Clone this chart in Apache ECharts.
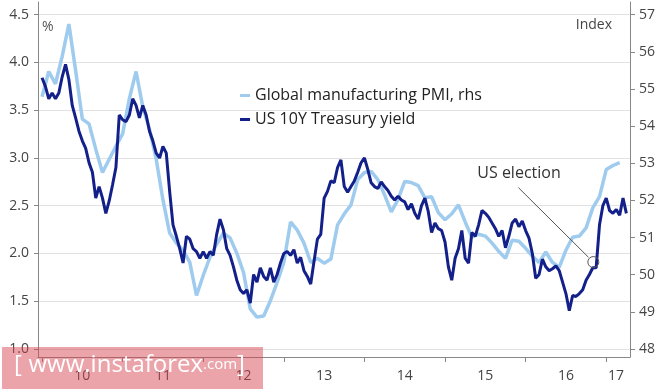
<!DOCTYPE html>
<html>
<head>
<meta charset="utf-8">
<script src="https://cdn.jsdelivr.net/npm/echarts@6/dist/echarts.min.js"></script>
<style>
html,body{margin:0;padding:0;background:#fff;}
#chart{width:665px;height:389px;}
</style>
</head>
<body>
<div id="chart"></div>
<script>
// ---- data ----
// US 10Y Treasury yield (%), semi-monthly from Jan 2010
var yieldStart = 2010;
var yieldValues = [
3.84,3.75,3.62,3.68,3.62,3.68,3.85,3.98,3.82,3.55,
3.42,3.28,3.18,3.10,2.95,2.85,2.58,2.70,2.58,2.42,
2.55,2.72,2.90,3.45,3.40,3.38,3.45,3.62,3.55,3.42,
3.55,3.45,3.28,3.18,3.05,3.00,3.12,3.05,2.65,2.30,
2.18,2.05,1.90,2.18,2.15,2.05,2.02,1.95,2.02,1.95,
2.02,1.98,2.20,2.36,2.25,2.05,1.98,1.86,1.72,1.62,
1.58,1.62,1.48,1.78,1.70,1.85,1.76,1.72,1.85,1.70,
1.78,1.90,2.00,2.02,1.98,2.04,1.90,1.96,1.82,1.76,
1.68,1.92,2.15,2.20,2.58,2.65,2.76,2.74,2.90,2.98,
2.70,2.64,2.70,2.76,2.85,2.95,3.00,2.88,2.74,2.70,
2.68,2.75,2.70,2.66,2.60,2.56,2.60,2.56,2.54,2.46,
2.52,2.42,2.36,2.50,2.58,2.44,2.22,2.32,2.26,2.24,
2.12,1.86,1.72,1.95,2.05,2.24,1.95,1.90,2.22,2.18,
2.30,2.45,2.42,2.38,2.32,2.26,2.18,2.24,2.06,2.18,
2.32,2.36,2.28,2.34,2.24,2.16,2.00,1.74,1.78,1.94,
1.86,1.82,1.84,1.87,1.82,1.70,1.58,1.40,1.56,1.55,
1.58,1.62,1.72,1.78,1.85,1.85,2.30,2.50,2.58,2.45,
2.42,2.46,2.40,2.58,2.42
];
// Global manufacturing PMI (index), monthly from Jan 2010
var pmiStart = 2010;
var pmiValues = [
54.79,55.47,55.14,55.88,56.75,55.50,54.19,54.06,53.38,52.75,
53.11,53.46,53.79,54.74,55.47,54.52,53.92,53.11,52.02,51.12,
50.85,50.66,50.33,49.44,49.98,50.47,50.82,51.12,50.99,50.58,
50.06,49.08,48.86,48.89,49.30,49.79,50.33,51.42,51.20,50.85,
50.33,50.44,50.31,50.42,51.34,51.64,51.88,52.56,52.75,52.78,
52.56,52.15,51.69,52.02,52.51,52.48,52.40,52.07,52.10,51.67,
51.48,51.64,51.88,51.42,51.01,51.09,51.04,50.85,50.63,50.44,
50.93,50.90,50.71,50.50,50.33,50.61,50.33,50.20,50.66,51.01,
51.04,51.26,51.80,52.10,52.83,52.94,53.02
];
var yearTicks = [2010,2011,2012,2013,2014,2015,2016,2017];
var yearLabelPos = [2010.5,2011.5,2012.5,2013.5,2014.5,2015.5,2016.5,2017.12];
var leftTicks = [1.0,1.5,2.0,2.5,3.0,3.5,4.0,4.5];
var rightTicks = [48,49,50,51,52,53,54,55,56,57];
var seriesNames = ['Global manufacturing PMI, rhs','US 10Y Treasury yield'];
// annotation (US election)
var electionLabel = 'US election';
var electionPoint = [2016.84, 1.91];
var electionLineFrom = [2015.91, 2.69];
var electionLineTo = [2016.78, 1.96];
var electionTextAt = [2015.918, 2.838];

// ---- build ----
var yieldData = yieldValues.map(function(v,k){ return [yieldStart + k/24, v]; });
var pmiData = pmiValues.map(function(v,i){ return [pmiStart + i/12, v]; });

var leftMin = 0.916, leftMax = 4.633;
function toRight(v){ return 48 + (v - 1.0) * 9 / 3.5; }

var FONT = '"Open Sans", sans-serif';
var LBL = {color:'#444', fontSize:14, fontFamily:FONT};

var chart = echarts.init(document.getElementById('chart'), null, {renderer:'canvas'});
chart.setOption({
  animation:false,
  backgroundColor:'#fff',
  grid:{left:38, right:35, top:2, bottom:32, containLabel:false},
  legend:{
    data:seriesNames, orient:'vertical', left:240, top:87, padding:0,
    icon:'rect', itemWidth:10, itemHeight:3, itemGap:7,
    textStyle:{color:'#222', fontSize:16, fontFamily:FONT, lineHeight:17}
  },
  xAxis:{
    type:'value', min:2009.95, max:2017.295,
    axisLine:{show:true, lineStyle:{color:'#888', width:1}},
    axisTick:{show:true, customValues:yearTicks, length:5, lineStyle:{color:'#888'}},
    axisLabel:Object.assign({customValues:yearLabelPos, margin:12,
      formatter:function(v){ return String(Math.floor(v) % 100); }}, LBL),
    splitLine:{show:false}
  },
  yAxis:[{
    type:'value', min:leftMin, max:leftMax, position:'left',
    axisLine:{show:true, lineStyle:{color:'#888'}},
    axisTick:{show:true, customValues:leftTicks, length:4, lineStyle:{color:'#888'}},
    axisLabel:Object.assign({customValues:leftTicks, margin:9,
      formatter:function(v){ return v.toFixed(1); }}, LBL),
    splitLine:{show:true, lineStyle:{color:'#e2e2e2', width:1}}
  },{
    type:'value', min:toRight(leftMin), max:toRight(leftMax), position:'right',
    axisLine:{show:true, lineStyle:{color:'#888'}},
    axisTick:{show:true, customValues:rightTicks, length:5, lineStyle:{color:'#888'}},
    axisLabel:Object.assign({customValues:rightTicks, margin:9,
      formatter:function(v){ return String(Math.round(v)); }}, LBL),
    splitLine:{show:false}
  }],
  series:[{
    name:seriesNames[0], type:'line', yAxisIndex:1, data:pmiData,
    showSymbol:false, symbol:'none',
    lineStyle:{color:'#9fcbee', width:3.5}, itemStyle:{color:'#9fcbee'}, z:2
  },{
    name:seriesNames[1], type:'line', yAxisIndex:0, data:yieldData,
    showSymbol:false, symbol:'none',
    lineStyle:{color:'#14208a', width:3}, itemStyle:{color:'#14208a'}, z:3,
    markLine:{
      silent:true, symbol:['none','none'],
      lineStyle:{color:'#555', width:1, type:'solid'},
      label:{show:false},
      data:[[{coord:electionLineFrom},{coord:electionLineTo}]]
    },
    markPoint:{
      silent:true,
      data:[
        {coord:electionPoint, symbol:'circle', symbolSize:11,
         itemStyle:{color:'rgba(0,0,0,0)', borderColor:'#555', borderWidth:1},
         label:{show:false}},
        {coord:electionTextAt, symbol:'circle', symbolSize:0,
         itemStyle:{color:'rgba(0,0,0,0)'},
         label:{show:true, position:'inside', formatter:electionLabel,
           color:'#333', fontSize:16, fontFamily:FONT}}
      ]
    }
  }],
  graphic:[
    {type:'text', left:42, top:20, style:{text:'%', fill:'#555', fontSize:14, fontFamily:FONT}},
    {type:'text', right:53, top:18, style:{text:'Index', fill:'#444', fontSize:14, fontFamily:FONT}},
    {type:'rect', left:2, top:347, shape:{width:261, height:42}, z:100,
     style:{fill:'rgba(212,64,78,0.48)'}},
    {type:'text', left:14, top:353, z:101,
     style:{text:'{a|[}  {b|www.instaforex}{c|.com}{a|]}', fill:'#fff',
       rich:{a:{fontSize:24, fill:'#fff', fontFamily:FONT},
             b:{fontSize:24, fill:'#fff', fontFamily:FONT},
             c:{fontSize:15, fill:'#fff', fontFamily:FONT}}}}
  ]
});
</script>
</body>
</html>
